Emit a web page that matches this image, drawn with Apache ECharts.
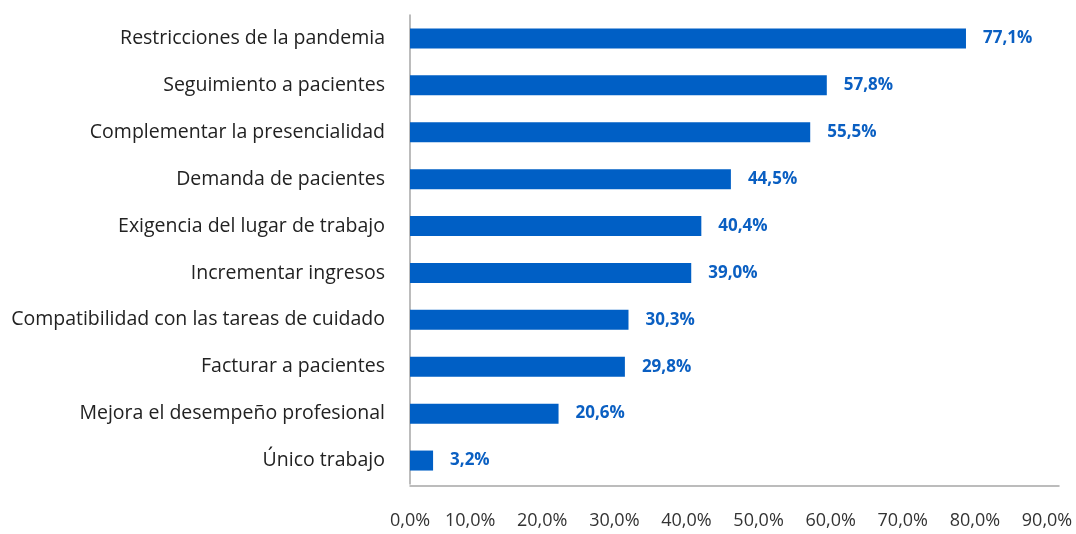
<!DOCTYPE html>
<html>
<head>
<meta charset="utf-8">
<script src="https://cdn.jsdelivr.net/npm/echarts@6/dist/echarts.min.js"></script>
<style>
  html, body { margin: 0; padding: 0; background: #fff; }
  #chart { width: 1076px; height: 534px; }
</style>
</head>
<body>
<div id="chart"></div>
<script>
// Motivos, de arriba hacia abajo
const categories = [
  'Restricciones de la pandemia',
  'Seguimiento a pacientes',
  'Complementar la presencialidad',
  'Demanda de pacientes',
  'Exigencia del lugar de trabajo',
  'Incrementar ingresos',
  'Compatibilidad con las tareas de cuidado',
  'Facturar a pacientes',
  'Mejora el desempeño profesional',
  'Único trabajo'
];
// Porcentaje de respuestas
const values = [77.1, 57.8, 55.5, 44.5, 40.4, 39.0, 30.3, 29.8, 20.6, 3.2];
// Marcas del eje horizontal
const ticks = [0, 10, 20, 30, 40, 50, 60, 70, 80, 90];

const fmt = v => v.toFixed(1).replace('.', ',') + '%';
const FONT = '"Open Sans", Lato, sans-serif';

const chart = echarts.init(document.getElementById('chart'), null, { renderer: 'canvas' });
chart.setOption({
  animation: false,
  grid: { left: 410, right: 17, top: 15, bottom: 50, containLabel: false },
  xAxis: {
    type: 'value',
    min: ticks[0],
    max: ticks[ticks.length - 1],
    interval: ticks[1] - ticks[0],
    offset: 2,
    splitLine: { show: false },
    axisTick: { show: false },
    axisLine: { show: true, lineStyle: { color: '#a6a6a6', width: 1.5 } },
    axisLabel: {
      margin: 26,
      fontFamily: FONT,
      fontSize: 18,
      color: '#333',
      padding: [0, 24, 0, 0],
      formatter: v => v === 0 ? '{z|' + fmt(v) + '}' : fmt(v),
      rich: { z: { padding: [0, 0, 0, 24], fontFamily: FONT, fontSize: 18, color: '#333' } }
    }
  },
  yAxis: {
    type: 'category',
    data: categories,
    inverse: true,
    axisTick: { show: false },
    axisLine: { show: true, lineStyle: { color: '#a6a6a6', width: 1.5 } },
    axisLabel: { margin: 25, fontFamily: FONT, fontSize: 19.5, color: '#222' }
  },
  series: [{
    type: 'bar',
    data: values,
    barWidth: 20,
    itemStyle: { color: '#005fc5' },
    label: {
      show: true,
      position: 'right',
      distance: 17,
      fontFamily: FONT,
      fontSize: 17,
      fontWeight: 'bold',
      color: '#0a5fc2',
      formatter: p => fmt(p.value)
    }
  }]
});
</script>
</body>
</html>
